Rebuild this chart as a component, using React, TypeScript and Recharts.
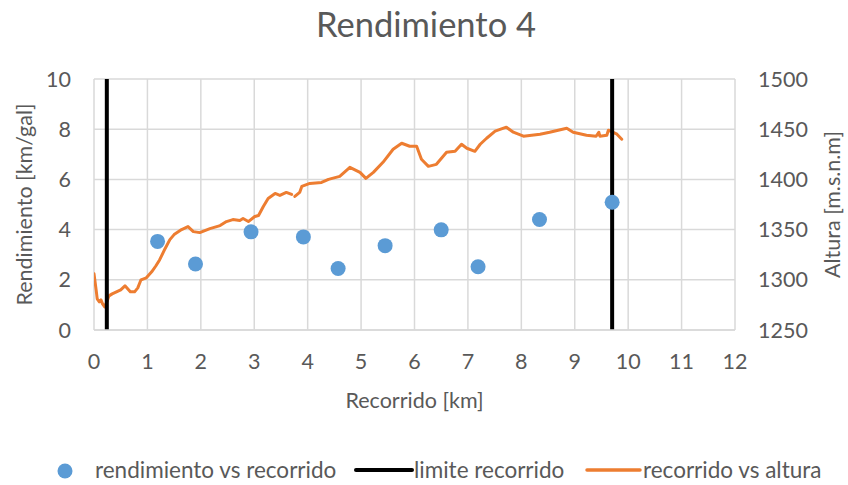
import React from 'react';
import { ComposedChart, XAxis, YAxis, CartesianGrid, Line, Scatter, Label } from 'recharts';

// Axis ticks
const kmTicks = [0, 1, 2, 3, 4, 5, 6, 7, 8, 9, 10, 11, 12];
const rendTicks = [0, 2, 4, 6, 8, 10];
const altTicks = [1250, 1300, 1350, 1400, 1450, 1500];

// Fuel efficiency samples along the route
const rendKm = [1.19, 1.9, 2.94, 3.92, 4.57, 5.45, 6.5, 7.19, 8.34, 9.7];
const rendVal = [3.53, 2.63, 3.91, 3.71, 2.45, 3.36, 3.99, 2.52, 4.4, 5.09];

// Start / end limits of the measured route
const limiteKm = [0.24, 9.7];
const limiteRange = [0, 10];

// Elevation profile (null = gap in the recording)
const alturaKm = [
  0.0, 0.04, 0.06, 0.1, 0.13, 0.16, 0.2, 0.24, 0.28, 0.34, 0.42, 0.5, 0.58, 0.63, 0.68, 0.76,
  0.82, 0.88, 0.98, 1.08, 1.16, 1.23, 1.33, 1.42, 1.5, 1.64, 1.76, 1.86, 1.98, 2.17, 2.36, 2.48,
  2.6, 2.73, 2.79, 2.89, 3.01, 3.08, 3.17, 3.26, 3.39, 3.48, 3.6, 3.7, 3.73, 3.76, 3.85, 3.89,
  4.04, 4.26, 4.39, 4.6, 4.79, 4.98, 5.09, 5.23, 5.41, 5.6, 5.76, 5.91, 6.04, 6.13, 6.26, 6.41,
  6.6, 6.76, 6.88, 6.98, 7.13, 7.23, 7.35, 7.51, 7.72, 7.85, 8.04, 8.35, 8.53, 8.85, 8.97, 9.22,
  9.4, 9.45, 9.47, 9.6, 9.63, 9.79, 9.88,
];
const alturaM: (number | null)[] = [
  1306, 1290, 1281, 1278, 1280, 1276, 1273, 1278, 1284, 1286, 1288, 1290, 1294, 1291, 1288, 1288,
  1292, 1300, 1302, 1308, 1314, 1320, 1331, 1340, 1345, 1350, 1353, 1348, 1347, 1351, 1354, 1358,
  1360, 1359, 1361, 1358, 1363, 1364, 1373, 1381, 1386, 1384, 1387, 1385, null, 1383, 1387, 1393,
  1396, 1397, 1400, 1403, 1412, 1407, 1401, 1407, 1417, 1430, 1436, 1433, 1433, 1420, 1413, 1415,
  1427, 1428, 1435, 1431, 1428, 1435, 1441, 1448, 1452, 1447, 1443, 1445, 1447, 1451, 1447, 1444,
  1443, 1447, 1443, 1444, 1449, 1445, 1440,
];

const rendData = rendKm.map((km, i) => ({ km, rend: rendVal[i] }));
const alturaData = alturaKm.map((km, i) => ({ km, alt: alturaM[i] }));
const limiteData = limiteKm.map((km) => limiteRange.map((v) => ({ km, lim: v })));

const FONT = 'Lato, "Open Sans", sans-serif';
const TEXT = '#595959';
const GRID = '#d9d9d9';
const BLUE = '#5b9bd5';
const ORANGE = '#ed7d31';

const tickStyle = { fill: TEXT, fontSize: 21.5, fontFamily: FONT };

const axisTitle = (text: string, dxFromAxis: number) => (props: any) => {
  const vb = props.viewBox || {};
  const cx = vb.x + dxFromAxis;
  const cy = vb.y + vb.height / 2;
  return (
    <text
      x={cx}
      y={cy}
      transform={`rotate(-90, ${cx}, ${cy})`}
      textAnchor="middle"
      dominantBaseline="central"
      fill={TEXT}
      fontSize={21.5}
      fontFamily={FONT}
    >
      {text}
    </text>
  );
};

export default function App() {
  return (
    <div style={{ position: 'absolute', left: 0, top: 0, width: 848, height: 485, background: '#fff' }}>
      <ComposedChart width={848} height={485} margin={{ top: 79, right: 0, bottom: 105, left: 0 }}>
        <CartesianGrid yAxisId="left" stroke={GRID} strokeWidth={1.5} />
        <XAxis
          dataKey="km"
          type="number"
          domain={[0, 12]}
          ticks={kmTicks}
          allowDataOverflow
          height={50}
          tickSize={0}
          tickMargin={24}
          tick={tickStyle}
          axisLine={{ stroke: GRID, strokeWidth: 1.5 }}
          tickLine={false}
        >
          <Label
            content={(props: any) => {
              const vb = props.viewBox || {};
              return (
                <text
                  x={vb.x + vb.width / 2}
                  y={408}
                  textAnchor="middle"
                  fill={TEXT}
                  fontSize={21.5}
                  fontFamily={FONT}
                >
                  Recorrido [km]
                </text>
              );
            }}
          />
        </XAxis>
        <YAxis
          yAxisId="left"
          orientation="left"
          type="number"
          domain={[0, 10]}
          ticks={rendTicks}
          width={94}
          tickSize={0}
          tickMargin={23}
          tick={tickStyle}
          axisLine={false}
          tickLine={false}
        >
          <Label content={axisTitle('Rendimiento [km/gal]', 24)} />
        </YAxis>
        <YAxis
          yAxisId="right"
          orientation="right"
          type="number"
          domain={[1250, 1500]}
          ticks={altTicks}
          width={113}
          tickSize={0}
          tickMargin={23}
          tick={tickStyle}
          axisLine={false}
          tickLine={false}
        >
          <Label content={axisTitle('Altura [m.s.n.m]', 97)} />
        </YAxis>

        <Line
          yAxisId="right"
          data={alturaData}
          dataKey="alt"
          stroke={ORANGE}
          strokeWidth={3}
          strokeLinejoin="round"
          strokeLinecap="round"
          dot={false}
          activeDot={false}
          isAnimationActive={false}
          name="recorrido vs altura"
        />
        {limiteData.map((d, i) => (
          <Line
            key={i}
            yAxisId="left"
            data={d}
            dataKey="lim"
            stroke="#000"
            strokeWidth={4}
            dot={false}
            activeDot={false}
            isAnimationActive={false}
            name="limite recorrido"
          />
        ))}
        <Scatter
          yAxisId="left"
          data={rendData}
          dataKey="rend"
          fill={BLUE}
          isAnimationActive={false}
          name="rendimiento vs recorrido"
          shape={(p: any) => <circle cx={p.cx} cy={p.cy} r={7.5} fill={BLUE} />}
        />
      </ComposedChart>

      <svg
        width={848}
        height={485}
        style={{ position: 'absolute', left: 0, top: 0, pointerEvents: 'none' }}
      >
        <text x={426} y={37} textAnchor="middle" fill={TEXT} fontSize={34.5} fontFamily={FONT}>
          Rendimiento 4
        </text>
        <g fontFamily={FONT} fontSize={22.5} fill={TEXT}>
          <circle cx={65} cy={471} r={7.5} fill={BLUE} />
          <text x={95} y={478}>rendimiento vs recorrido</text>
          <line x1={356} y1={470} x2={412} y2={470} stroke="#000" strokeWidth={4} strokeLinecap="round" />
          <text x={414} y={478}>limite recorrido</text>
          <line x1={587} y1={470} x2={640} y2={470} stroke={ORANGE} strokeWidth={3.5} strokeLinecap="round" />
          <text x={643} y={478}>recorrido vs altura</text>
        </g>
      </svg>
    </div>
  );
}
